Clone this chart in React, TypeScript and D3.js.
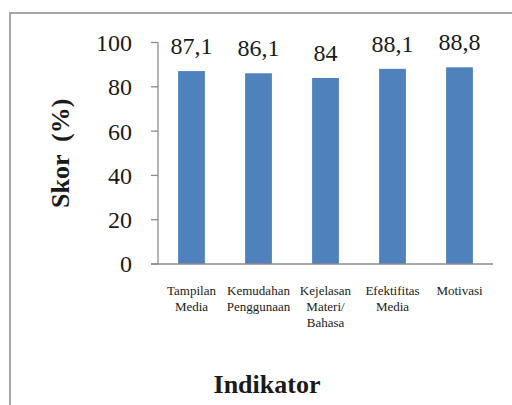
import React from "react";
import * as d3 from "d3";

const categories: string[][] = [
  ["Tampilan", "Media"],
  ["Kemudahan", "Penggunaan"],
  ["Kejelasan", "Materi/", "Bahasa"],
  ["Efektifitas", "Media"],
  ["Motivasi"],
];
const values = [87.1, 86.1, 84, 88.1, 88.8];
const valueLabels = ["87,1", "86,1", "84", "88,1", "88,8"];
const yTicks = [0, 20, 40, 60, 80, 100];

const W = 512;
const H = 405;
const FONT = "Tinos, 'Liberation Serif', 'DejaVu Serif'";

export default function App() {
  const x = d3
    .scaleBand<number>()
    .domain(values.map((_, i) => i))
    .range([158, 493])
    .paddingInner(0.6)
    .paddingOuter(0.3);
  const y = d3.scaleLinear().domain([0, 100]).range([264, 42.5]);
  const axisColor = "#8c8c8c";

  return (
    <svg
      width={W}
      height={H}
      style={{ position: "absolute", left: 0, top: 0, background: "#fff", fontFamily: FONT }}
    >
      <rect x={10} y={13} width={W + 20} height={H + 20} fill="#fff" stroke="#a6a6a6" strokeWidth={2} />
      {/* y axis */}
      <line x1={158} x2={158} y1={y(100)} y2={y(0)} stroke={axisColor} strokeWidth={1.3} />
      {yTicks.map((t) => (
        <g key={t}>
          <line x1={151} x2={158} y1={y(t)} y2={y(t)} stroke={axisColor} strokeWidth={1.3} />
          <text x={132} y={y(t)} dy="0.35em" textAnchor="end" fontSize={24} fill="#1a1a1a">
            {t}
          </text>
        </g>
      ))}
      {/* bars */}
      {values.map((v, i) => (
        <g key={i}>
          <rect x={x(i)} y={y(v)} width={x.bandwidth()} height={y(0) - y(v)} fill="#4F81BD" />
          <text
            x={(x(i) as number) + x.bandwidth() / 2}
            y={y(v) - 17}
            textAnchor="middle"
            fontSize={24}
            fill="#1a1a1a"
          >
            {valueLabels[i]}
          </text>
          {categories[i].map((line, j) => (
            <text
              key={j}
              x={(x(i) as number) + x.bandwidth() / 2}
              y={295 + j * 15.8}
              textAnchor="middle"
              fontSize={13}
              fill="#1a1a1a"
            >
              {line}
            </text>
          ))}
        </g>
      ))}
      {/* x axis */}
      <line x1={151} x2={493} y1={y(0)} y2={y(0)} stroke={axisColor} strokeWidth={1.3} />
      {/* titles */}
      <text
        transform={`translate(69, ${(y(0) + y(100)) / 2}) rotate(-90)`}
        textAnchor="middle"
        fontSize={26}
        fontWeight="bold"
        fill="#1a1a1a"
        style={{ whiteSpace: "pre" }}
      >
        {"Skor  (%)"}
      </text>
      <text x={267} y={393} textAnchor="middle" fontSize={26} fontWeight="bold" fill="#1a1a1a">
        Indikator
      </text>
    </svg>
  );
}
